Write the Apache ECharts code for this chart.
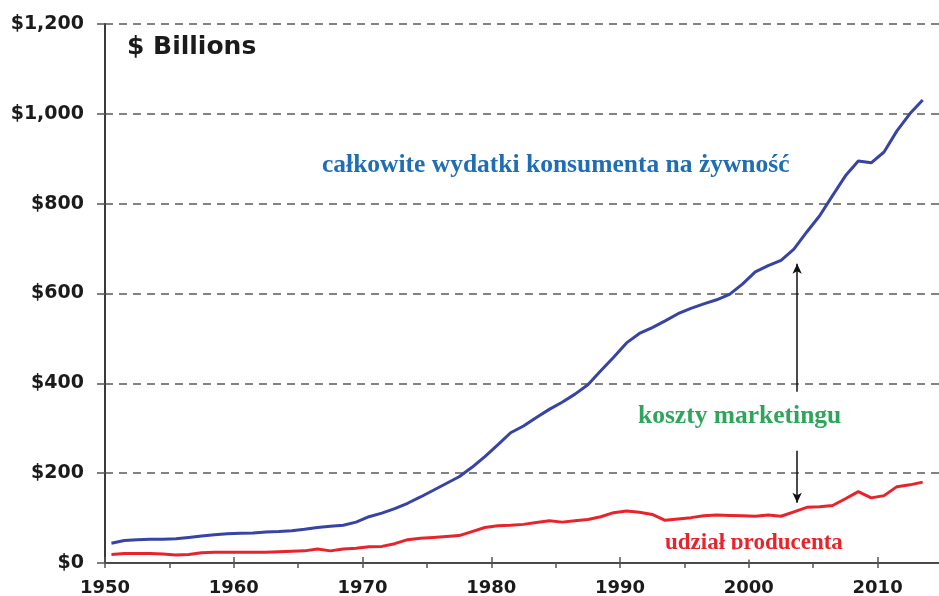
<!DOCTYPE html>
<html>
<head>
<meta charset="utf-8">
<script src="https://cdn.jsdelivr.net/npm/echarts@6/dist/echarts.min.js"></script>
<style>
  html, body { margin: 0; padding: 0; background: #ffffff; overflow: hidden; }
  #chart { width: 939px; height: 596px; }
</style>
</head>
<body>
<div id="chart"></div>
<script>
// Years covered by the series
const years = [
  1950, 1951, 1952, 1953, 1954, 1955, 1956, 1957, 1958, 1959,
  1960, 1961, 1962, 1963, 1964, 1965, 1966, 1967, 1968, 1969,
  1970, 1971, 1972, 1973, 1974, 1975, 1976, 1977, 1978, 1979,
  1980, 1981, 1982, 1983, 1984, 1985, 1986, 1987, 1988, 1989,
  1990, 1991, 1992, 1993, 1994, 1995, 1996, 1997, 1998, 1999,
  2000, 2001, 2002, 2003, 2004, 2005, 2006, 2007, 2008, 2009,
  2010, 2011, 2012, 2013
];

// Total consumer food expenditures, $ billions
const consumerSpending = [
  44, 50, 52, 53, 53, 54, 57, 60, 63, 65,
  66, 67, 69, 70, 72, 75, 79, 82, 84, 91,
  103, 111, 121, 133, 147, 162, 177, 192, 213, 237,
  263, 290, 305, 324, 342, 358, 376, 397, 428, 458,
  490, 511, 524, 539, 555, 567, 577, 586, 598, 621,
  648, 662, 674, 699, 737, 773, 818, 862, 895, 891,
  915, 962, 1000, 1031
];

// Farm (producer) share of food expenditures, $ billions
const producerShare = [
  19, 21, 21, 21, 20, 18, 19, 23, 24, 24,
  24, 24, 24, 25, 26, 27, 31, 27, 31, 33,
  36, 37, 43, 52, 55, 57, 59, 61, 70, 79,
  83, 84, 86, 90, 94, 91, 94, 97, 103, 112,
  116, 113, 108, 95, 98, 101, 105, 107, 106, 105,
  104, 107, 104, 114, 124, 125, 128, 143, 159, 145,
  150, 170, 174, 180
];

// Value axis ticks, $ billions
const yAxisMin = 0;
const yAxisMax = 1200;
const yAxisStep = 200;

// Arrows bracketing the marketing margin (year, from, to in $ billions)
const arrowYear = 2003.75;
const upperArrow = [381, 666];
const lowerArrow = [250, 134];

// Each annual value is drawn at the middle of its year
const toPoints = (vals) => years.map((y, i) => [y + 0.5, vals[i]]);

const tickColor = '#555555';
const labelFont = '"DejaVu Sans", Arial, sans-serif';
const serifFont = '"Liberation Serif", "Times New Roman", serif';

const chart = echarts.init(document.getElementById('chart'), null, { renderer: 'canvas' });

chart.setOption({
  animation: false,
  backgroundColor: '#ffffff',
  // the plot runs slightly past the right edge so the closing 2015 tick falls outside
  grid: { left: 105, top: 24, bottom: 33, width: 837, outerBoundsMode: 'none' },
  xAxis: [
    {
      type: 'value',
      min: 1950,
      max: 2015,
      interval: 5,
      axisLine: { show: true, lineStyle: { color: '#4a4a4a', width: 2 } },
      axisTick: { show: true, inside: false, length: 5, lineStyle: { color: tickColor, width: 1.5 } },
      splitLine: { show: false },
      axisLabel: {
        margin: 16,
        fontFamily: labelFont,
        fontWeight: 'bold',
        fontSize: 18,
        color: '#1b1b1b',
        formatter: (v) => (v % 10 === 0 && v < 2015 ? String(v) : '')
      }
    },
    {
      type: 'value',
      position: 'bottom',
      min: 1950,
      max: 2015,
      interval: 10,
      axisLine: { show: false },
      axisTick: { show: true, inside: true, length: 6, lineStyle: { color: tickColor, width: 1.5 } },
      splitLine: { show: false },
      axisLabel: { show: false }
    }
  ],
  yAxis: {
    type: 'value',
    min: yAxisMin,
    max: yAxisMax,
    interval: yAxisStep,
    axisLine: { show: true, lineStyle: { color: '#3a3a3a', width: 2 } },
    axisTick: { show: true, length: 8, lineStyle: { color: tickColor, width: 1.5 } },
    splitLine: {
      show: true,
      lineStyle: { color: '#5a5a5a', width: 1.5, type: [8, 6] }
    },
    axisLabel: {
      margin: 21,
      fontFamily: labelFont,
      fontWeight: 'bold',
      fontSize: 19,
      color: '#1b1b1b',
      formatter: (v) => '$' + v.toLocaleString('en-US')
    }
  },
  series: [
    {
      name: 'całkowite wydatki konsumenta na żywność',
      type: 'line',
      data: toPoints(consumerSpending),
      showSymbol: false,
      smooth: false,
      lineStyle: { color: '#3743a5', width: 3 },
      itemStyle: { color: '#3743a5' },
      z: 3,
      markLine: {
        silent: true,
        symbol: ['none', 'arrow'],
        symbolSize: [7, 10],
        label: { show: false },
        lineStyle: { color: '#111111', width: 1.5, type: 'solid' },
        data: [
          [{ coord: [arrowYear, upperArrow[0]] }, { coord: [arrowYear, upperArrow[1]] }],
          [{ coord: [arrowYear, lowerArrow[0]] }, { coord: [arrowYear, lowerArrow[1]] }]
        ]
      }
    },
    {
      name: 'udział producenta',
      type: 'line',
      data: toPoints(producerShare),
      showSymbol: false,
      smooth: false,
      lineStyle: { color: '#e8232b', width: 3 },
      itemStyle: { color: '#e8232b' },
      z: 3
    }
  ],
  graphic: [
    {
      type: 'text',
      left: 127,
      top: 35,
      z: 50,
      style: {
        text: '$ Billions',
        fontFamily: labelFont,
        fontWeight: 'bold',
        fontSize: 25,
        fill: '#1b1b1b'
      }
    },
    {
      type: 'text',
      x: 322,
      y: 165.5,
      z: 50,
      style: {
        text: 'całkowite wydatki konsumenta na żywność',
        fontFamily: serifFont,
        fontWeight: 'bold',
        fontSize: 25.5,
        fill: '#1f6db5',
        verticalAlign: 'middle',
        align: 'left'
      }
    },
    {
      type: 'text',
      x: 638,
      y: 416.5,
      z: 50,
      style: {
        text: 'koszty marketingu',
        fontFamily: serifFont,
        fontWeight: 'bold',
        fontSize: 25.5,
        fill: '#2ea55a',
        verticalAlign: 'middle',
        align: 'left'
      }
    },
    {
      type: 'text',
      x: 665,
      y: 543.5,
      z: 50,
      style: {
        text: 'udział producenta',
        fontFamily: serifFont,
        fontWeight: 'bold',
        fontSize: 23,
        fill: '#e8232b',
        verticalAlign: 'middle',
        align: 'left'
      }
    },
    {
      // the producer label sits just above the axis and is trimmed along its baseline
      type: 'rect',
      z: 51,
      shape: { x: 655, y: 549.5, width: 200, height: 10 },
      style: { fill: '#ffffff' }
    }
  ]
});
</script>
</body>
</html>
